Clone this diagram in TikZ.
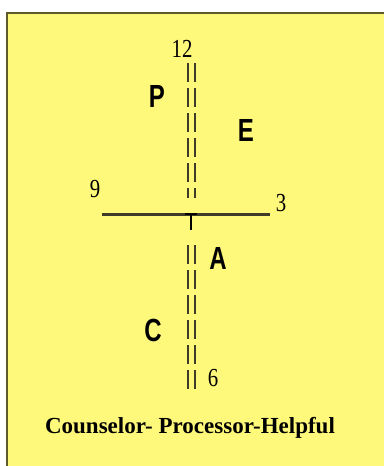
\documentclass[tikz,border=0pt]{standalone}
\usepackage{fontspec}
\setmainfont{Liberation Serif}
\newfontfamily\lettersans{Liberation Sans}
\definecolor{notepad}{HTML}{FFF97B}
\definecolor{rim}{HTML}{5E5A2C}
\definecolor{axis}{HTML}{3E3C28}
\begin{document}
\begin{tikzpicture}[x=1pt,y=-1pt]
		\tikzstyle{every node}+=[inner sep=0pt]
		\tikzstyle{quad}=[font=\lettersans\bfseries\fontsize{32}{32}\selectfont, xscale=0.75]
		\tikzstyle{hour}=[font=\fontsize{26}{26}\selectfont, xscale=0.8]
		\tikzstyle{rail}=[axis, line width=1.8pt, dash pattern=on 19pt off 6pt]
		\useasboundingbox (0,0) rectangle (384,466);
		% note paper
		\fill [white] (0,0) rectangle (384,466);
		\fill [notepad] (7,13) rectangle (384,466);
		\draw [rim, line width=2.5pt] (7,466) -- (7,13) -- (384,13);
		% clock hours
		\node [hour] (twelve) at (182,49) {12};
		\node [hour] (nine) at (95,189) {9};
		\node [hour] (three) at (281,203) {3};
		\node [hour] (six) at (213,378) {6};
		% quadrant letters
		\node [quad] (P) at (157,96) {P};
		\node [quad] (E) at (246,130) {E};
		\node [quad] (A) at (218,258) {A};
		\node [quad] (C) at (153,330) {C};
		% axes
		\coordinate (west) at (102,214);
		\coordinate (east) at (270,214);
		\coordinate (hub) at (191,214);
		\draw [axis, line width=3pt] (west) -- (east);
		\draw [black, line width=2.6pt] ([xshift=-6pt]hub) -- ([xshift=6pt]hub);
		\draw [black, line width=2.8pt] (hub) -- ([yshift=-16pt]hub);
		\draw [rail] (188,63) -- (188,198);
		\draw [rail] (195,63) -- (195,198);
		\draw [rail] (188,245) -- (188,394);
		\draw [rail] (195,245) -- (195,394);
		% caption
		\node (caption) at (190,428) {\bfseries\fontsize{23}{23}\selectfont Counselor- Processor-Helpful};
	\end{tikzpicture}
\end{document}
